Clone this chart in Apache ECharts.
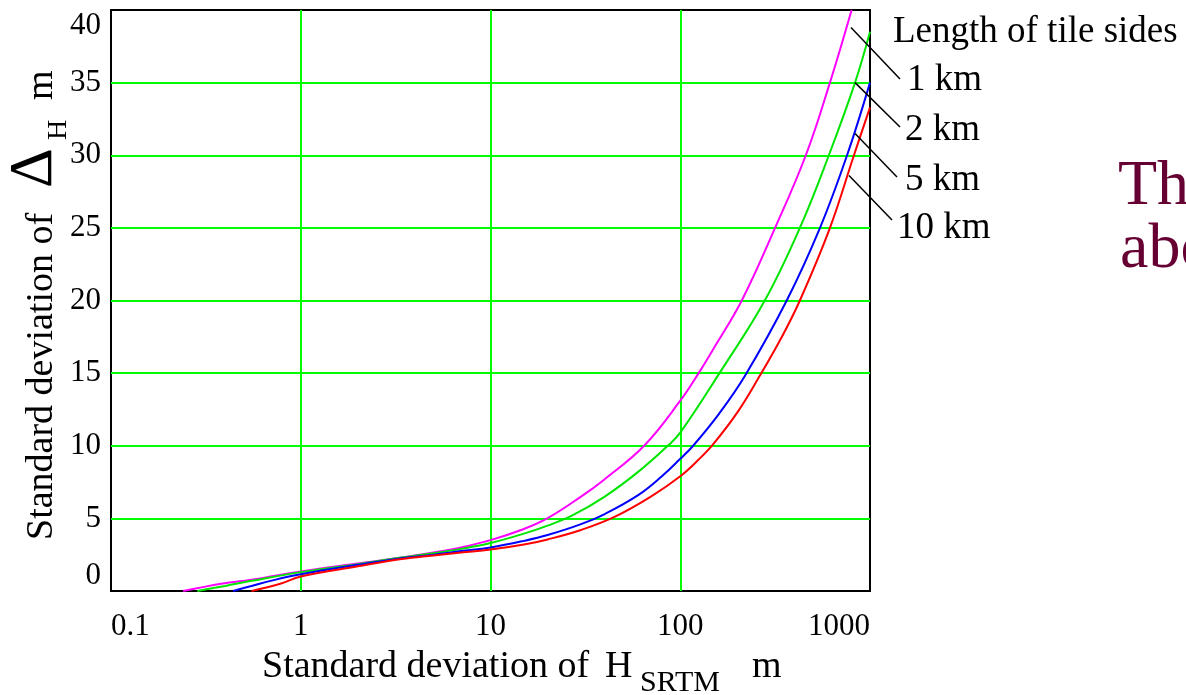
<!DOCTYPE html>
<html>
<head>
<meta charset="utf-8">
<title>Standard deviation of ΔH vs standard deviation of H SRTM</title>
<script src="https://cdn.jsdelivr.net/npm/echarts@6/dist/echarts.min.js"></script>
<style>
  html, body { margin: 0; padding: 0; background: #fff; }
  #chart { width: 1186px; height: 695px; }
</style>
</head>
<body>
<div id="chart"></div>
<script>
// values: x = std dev of H_SRTM (m, log), y = std dev of ΔH (m)
const km1X = [0.24, 0.3, 0.38, 0.6, 1, 2, 3.4, 5, 7, 10, 14.5, 19.9, 30, 40, 64.5, 100, 125, 150, 211, 316, 459, 615, 800];
const km1Y = [0, 0.25, 0.5, 0.85, 1.35, 1.9, 2.3, 2.65, 3.0, 3.5, 4.2, 5, 6.5, 7.7, 10, 13.1, 15, 16.7, 20, 25, 30, 35, 40];

const km2X = [0.285, 0.4, 0.55, 1, 2, 3.4, 5, 7, 10, 15, 20, 27, 40, 60, 86, 100, 161, 279, 427, 607, 834, 1000];
const km2Y = [0, 0.35, 0.7, 1.3, 1.85, 2.3, 2.6, 2.9, 3.3, 3.95, 4.5, 5.2, 6.5, 8.2, 10, 10.9, 15, 20, 25, 30, 35, 38.5];

const km5X = [0.44, 0.55, 0.72, 1, 2, 3.4, 5, 7, 10, 15, 20, 30, 40, 60, 80, 100, 116, 160, 219, 364, 545, 757, 1000];
const km5Y = [0, 0.35, 0.75, 1.15, 1.8, 2.25, 2.5, 2.75, 3.0, 3.45, 3.85, 4.6, 5.3, 6.6, 7.9, 9.1, 9.95, 12.2, 14.8, 20, 25, 30, 35];

const km10X = [0.55, 0.78, 1, 2, 3.4, 5, 7, 10, 15, 20, 30, 45, 70, 100, 125, 150, 200, 262, 340, 427, 615, 823, 1000];
const km10Y = [0, 0.5, 1.0, 1.7, 2.2, 2.45, 2.65, 2.85, 3.2, 3.55, 4.2, 5.1, 6.5, 7.9, 9.05, 10.15, 12.3, 14.8, 17.4, 20, 25, 30, 33.3];

const seriesNames = ['1 km', '2 km', '5 km', '10 km'];
const seriesColors = ['#ff00ff', '#00e600', '#0000ff', '#ff0000'];
const xTicks = [0.1, 1, 10, 100, 1000];
const yTicks = [0, 5, 10, 15, 20, 25, 30, 35, 40];

// where each label's leader line touches its curve (data coords)
const leaderAnchors = [[794, 38.8], [834, 35.0], [834, 31.5], [775, 28.6]];

const FONT = '"Liberation Serif", "Times New Roman", serif';

const chart = echarts.init(document.getElementById('chart'));

const curves = [[km1X, km1Y], [km2X, km2Y], [km5X, km5Y], [km10X, km10Y]];

// text placed by its baseline (middle align, shifted by ~1/3 em)
function label(text, x, baseline, size, color) {
  return {
    type: 'text',
    z: 100,
    style: {
      text: text,
      x: x,
      y: baseline - size * 0.33,
      font: size + 'px ' + FONT,
      fill: color || '#000',
      verticalAlign: 'middle',
      textAlign: 'left'
    }
  };
}

const option = {
  animation: false,
  backgroundColor: '#fff',
  grid: {
    left: 111,
    right: 316,
    top: 10,
    bottom: 104,
    show: true,
    borderColor: '#000',
    borderWidth: 2,
    outerBoundsMode: 'none'
  },
  xAxis: {
    type: 'log',
    logBase: 10,
    min: xTicks[0],
    max: xTicks[xTicks.length - 1],
    axisLine: { show: false },
    axisTick: { show: false },
    splitLine: {
      show: true,
      showMinLine: false,
      showMaxLine: false,
      lineStyle: { color: '#00ff00', width: 2 }
    },
    axisLabel: {
      fontFamily: FONT,
      fontSize: 31,
      color: '#000',
      margin: 20,
      alignMinLabel: 'left',
      alignMaxLabel: 'right',
      formatter: v => String(v)
    }
  },
  yAxis: {
    type: 'value',
    min: yTicks[0],
    max: yTicks[yTicks.length - 1],
    interval: 5,
    axisLine: { show: false },
    axisTick: { show: false },
    splitLine: {
      show: true,
      showMinLine: false,
      showMaxLine: false,
      lineStyle: { color: '#00ff00', width: 2 }
    },
    axisLabel: {
      fontFamily: FONT,
      fontSize: 31,
      color: '#000',
      margin: 10,
      verticalAlignMinLabel: 'bottom',
      verticalAlignMaxLabel: 'top'
    }
  },
  series: curves.map((c, i) => ({
    name: seriesNames[i],
    type: 'line',
    data: c[0].map((x, j) => [x, c[1][j]]),
    showSymbol: false,
    smooth: 0.4,
    clip: true,
    lineStyle: { color: seriesColors[i], width: 2 },
    itemStyle: { color: seriesColors[i] },
    z: 3
  }))
};

chart.setOption(option);

// annotations: axis titles, curve labels with leader lines, side text
const leaderEnds = [[900, 79], [900, 127], [897, 177], [892, 220]];
const leaders = leaderAnchors.map((a, i) => {
  const p = chart.convertToPixel({ gridIndex: 0 }, a);
  return {
    type: 'line',
    z: 100,
    shape: { x1: p[0], y1: p[1], x2: leaderEnds[i][0], y2: leaderEnds[i][1] },
    style: { stroke: '#000', lineWidth: 1.5 }
  };
});

chart.setOption({
  graphic: [
    // x axis title
    label('Standard deviation of', 262, 680, 38),
    label('H', 605, 680, 38),
    label('SRTM', 640, 693, 30),
    label('m', 752, 680, 38),
    // y axis title, rotated
    {
      type: 'group',
      x: 55,
      y: 540,
      rotation: Math.PI / 2,
      children: [
        label('Standard deviation of', 0, 0, 38),
        label('Δ', 352, 0, 62),
        label('H', 400, 13, 28),
        label('m', 440, 0, 38)
      ]
    },
    // curve labels
    label('Length of tile sides', 893, 44, 37),
    label('1 km', 907, 92, 37),
    label('2 km', 905, 142, 37),
    label('5 km', 905, 192, 37),
    label('10 km', 897, 240, 37),
    ...leaders,
    // cut-off slide text on the right
    label('The', 1118, 208, 64, '#660033'),
    label('above', 1120, 271, 64, '#660033')
  ]
});
</script>
</body>
</html>
